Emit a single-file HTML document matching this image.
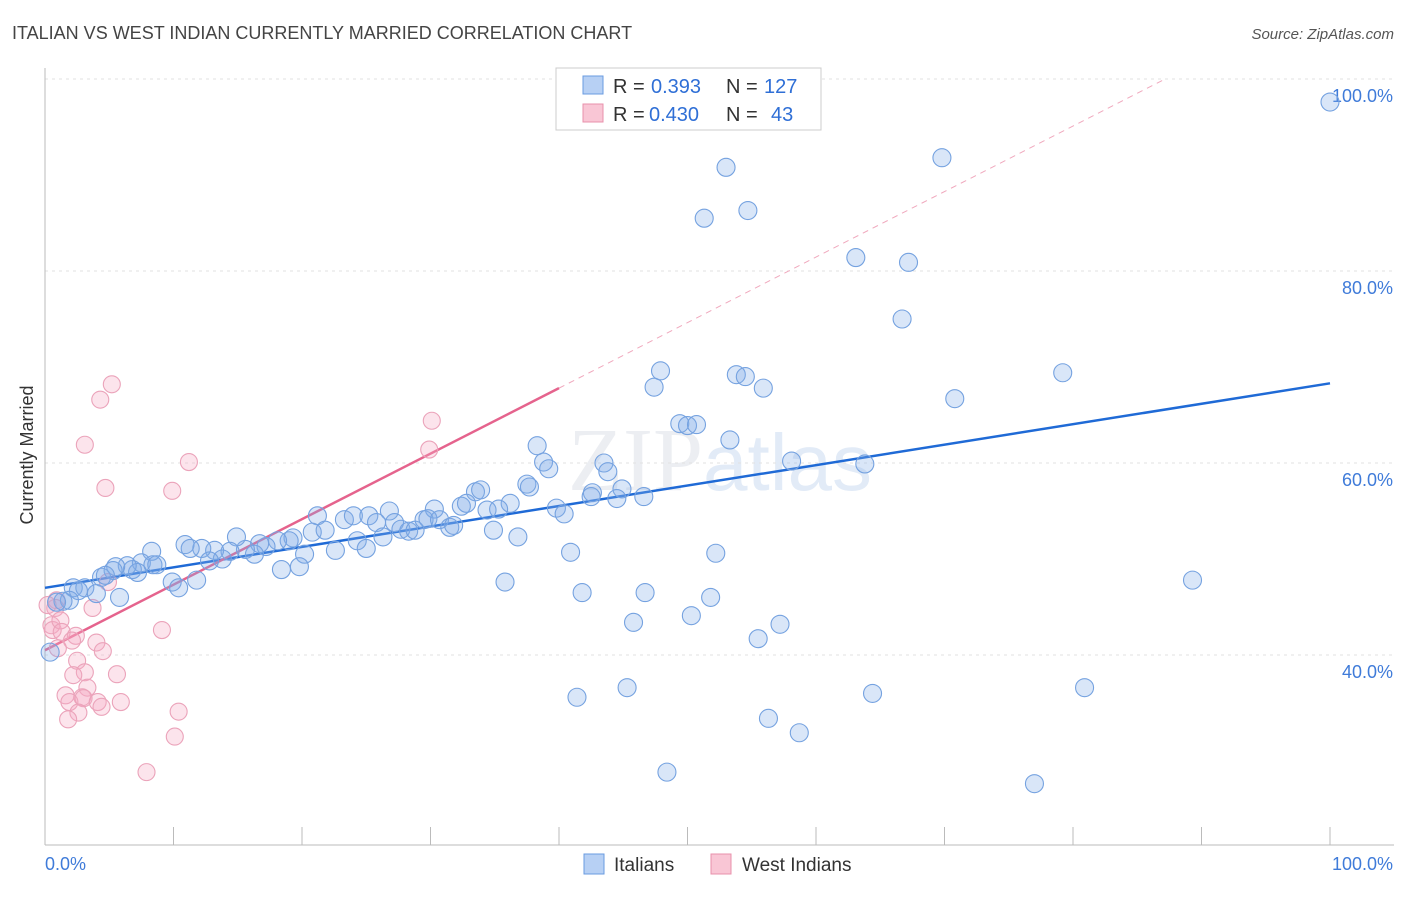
<!DOCTYPE html>
<html><head><meta charset="utf-8"><style>
body{margin:0;background:#fff;font-family:"Liberation Sans",sans-serif;}
</style></head><body>
<svg id="chart" width="1406" height="892" xmlns="http://www.w3.org/2000/svg" font-family="Liberation Sans, sans-serif">
<text x="12" y="39" font-size="18" fill="#444">ITALIAN VS WEST INDIAN CURRENTLY MARRIED CORRELATION CHART</text>
<text x="1394" y="39" font-size="15" fill="#555" font-style="italic" text-anchor="end">Source: ZipAtlas.com</text>
<text x="720" y="490" font-size="90" fill="#eceef2" text-anchor="middle" font-family="Liberation Serif, serif">ZIP<tspan font-family="Liberation Sans, sans-serif" fill="#e2ebf7" font-size="80">atlas</tspan></text>
<g id="grid"></g><g id="axes"></g><g id="lines"></g><g id="dots"></g>
<text transform="translate(33,455) rotate(-90)" font-size="18" fill="#333" text-anchor="middle">Currently Married</text>
<g>
<rect x="556" y="68" width="265" height="62" fill="#fff" stroke="#ccc"/>
<rect x="583" y="76" width="20" height="18" fill="#b7d0f4" stroke="#6a9be0"/>
<rect x="583" y="104" width="20" height="18" fill="#f9c6d5" stroke="#e890ab"/>
<text x="613" y="93" font-size="20" fill="#333">R =</text>
<text x="651" y="93" font-size="20" fill="#2f6fd6">0.393</text>
<text x="726" y="93" font-size="20" fill="#333">N =</text>
<text x="764" y="93" font-size="20" fill="#2f6fd6">127</text>
<text x="613" y="121" font-size="20" fill="#333">R =</text>
<text x="649" y="121" font-size="20" fill="#2f6fd6">0.430</text>
<text x="726" y="121" font-size="20" fill="#333">N =</text>
<text x="771" y="121" font-size="20" fill="#2f6fd6">43</text>
</g>
<g>
<rect x="584" y="854" width="20" height="20" fill="#b7d0f4" stroke="#6a9be0"/>
<text x="614" y="871" font-size="19" fill="#333">Italians</text>
<rect x="711" y="854" width="20" height="20" fill="#f9c6d5" stroke="#e890ab"/>
<text x="742" y="871" font-size="19" fill="#333">West Indians</text>
</g>
</svg>
<script>
const yTicks=[40,60,80,100];
const xTickLabels=["0.0%","100.0%"];
const italiansX=[100,53.0,69.8,51.3,54.7,63.1,67.2,66.7,47.9,47.4,53.8,54.5,55.9,70.8,79.2,49.4,50.0,50.7,53.3,58.1,63.8,38.3,38.8,39.2,43.5,43.8,37.5,37.7,33.5,33.9,42.6,42.5,44.9,44.5,46.6,39.8,40.4,36.2,34.4,35.3,32.4,32.8,30.3,34.9,36.8,40.9,52.2,35.8,41.8,46.7,51.8,50.3,45.8,57.2,55.5,89.3,41.4,45.3,64.4,80.9,56.3,58.7,48.4,77.0,21.2,23.3,24.0,25.2,26.8,25.8,27.2,27.7,28.3,28.8,29.5,29.8,30.7,31.5,31.8,26.3,24.3,25.0,22.6,20.8,21.8,19.3,19.0,18.1,20.2,19.8,18.4,17.2,16.7,16.3,15.6,14.9,14.4,13.2,12.2,13.8,12.8,10.9,11.3,8.3,7.5,8.4,8.7,6.8,7.2,6.4,5.5,5.3,4.4,4.7,9.9,10.4,11.8,5.8,2.2,3.1,2.6,4.0,1.9,1.4,0.9,0.4];
const italiansY=[97.6,90.8,91.8,85.5,86.3,81.4,80.9,75.0,69.6,67.9,69.2,69.0,67.8,66.7,69.4,64.1,63.9,64.0,62.4,60.2,59.9,61.8,60.1,59.4,60.0,59.1,57.8,57.5,57.0,57.2,56.9,56.5,57.3,56.3,56.5,55.3,54.7,55.8,55.1,55.2,55.5,55.8,55.2,53.0,52.3,50.7,50.6,47.6,46.5,46.5,46.0,44.1,43.4,43.2,41.7,47.8,35.6,36.6,36.0,36.6,33.4,31.9,27.8,26.6,54.5,54.1,54.5,54.5,55.0,53.8,53.8,53.1,52.9,53.0,54.1,54.2,54.1,53.3,53.5,52.3,51.9,51.1,50.9,52.8,53.0,52.2,51.9,51.9,50.5,49.2,48.9,51.3,51.6,50.5,51.0,52.3,50.8,50.9,51.1,50.0,49.8,51.5,51.1,50.8,49.6,49.4,49.4,48.9,48.6,49.3,49.2,48.8,48.1,48.3,47.6,47.0,47.8,46.0,47.0,47.0,46.7,46.4,45.7,45.6,45.5,40.3];
const westIndiansX=[5.2,4.3,3.1,11.2,30.1,29.9,4.7,9.9,4.9,3.7,0.9,0.8,0.5,0.6,1.2,1.3,2.4,2.1,4.0,4.5,1.0,2.5,3.1,2.2,5.6,3.3,1.6,2.9,1.9,3.0,4.1,5.9,4.4,2.6,1.8,9.1,10.4,10.1,7.9,0.2];
const westIndiansY=[68.2,66.6,61.9,60.1,64.4,61.4,57.4,57.1,47.6,44.9,45.7,44.9,43.1,42.6,43.6,42.4,42.0,41.5,41.3,40.4,40.7,39.4,38.2,37.9,38.0,36.6,35.8,35.6,35.1,35.5,35.1,35.1,34.6,34.0,33.3,42.6,34.1,31.5,27.8,45.2];
const italianTrend=[47.0,68.3];
const westIndianTrend=[40.5,67.8];
const NS="http://www.w3.org/2000/svg";
const X=v=>45+v*12.85, Y=v=>655-(v-40)*9.6;
function mk(tag,attrs,parent){const e=document.createElementNS(NS,tag);for(const k in attrs)e.setAttribute(k,attrs[k]);document.getElementById(parent).appendChild(e);return e;}
yTicks.forEach(t=>{
  const g=mk('line',{x1:45,x2:1394,y1:Y(t),y2:Y(t),stroke:'#e2e2e2','stroke-dasharray':'3,4'},'grid');
  
  
  const l=mk('text',{x:1393,y:Y(t)+23,'font-size':18,fill:'#3f7bd9','text-anchor':'end'},'grid');
  l.textContent=t.toFixed(1)+'%';
  
  
});
const ax=mk('line',{x1:45,x2:45,y1:68,y2:845,stroke:'#bbb'},'axes');


const bx=mk('line',{x1:45,x2:1394,y1:845,y2:845,stroke:'#bbb'},'axes');


for(let i=0;i<=10;i++){const t=mk('line',{x1:X(i*10),x2:X(i*10),y1:827,y2:845,stroke:'#bbb'},'axes');

}
const xl0=mk('text',{x:45,y:870,'font-size':18,fill:'#3f7bd9'},'axes');xl0.textContent=xTickLabels[0];


const xl1=mk('text',{x:1393,y:870,'font-size':18,fill:'#3f7bd9','text-anchor':'end'},'axes');xl1.textContent=xTickLabels[1];


const bl=mk('line',{x1:X(0),y1:Y(italianTrend[0]),x2:X(100),y2:Y(italianTrend[1]),stroke:'#1f6ad6','stroke-width':2.5},'lines');


const slope=(westIndianTrend[1]-westIndianTrend[0])/40;
const xEnd=(100-westIndianTrend[0])/slope;
const pd=mk('line',{x1:X(40),y1:Y(westIndianTrend[1]),x2:X(xEnd),y2:Y(100),stroke:'#f0a8bd','stroke-width':1,'stroke-dasharray':'6,5'},'lines');


const pl=mk('line',{x1:X(0),y1:Y(westIndianTrend[0]),x2:X(40),y2:Y(westIndianTrend[1]),stroke:'#e5638d','stroke-width':2.5},'lines');


westIndiansX.forEach((x,i)=>{const c=mk('circle',{cx:X(x),cy:Y(westIndiansY[i]),r:8.5,fill:'rgba(246,170,195,0.32)',stroke:'#eba3ba','stroke-width':1.1},'dots');

});
italiansX.forEach((x,i)=>{const c=mk('circle',{cx:X(x),cy:Y(italiansY[i]),r:9,fill:'rgba(130,172,232,0.3)',stroke:'#75a2e0','stroke-width':1.1},'dots');

});
</script>
</body></html>
